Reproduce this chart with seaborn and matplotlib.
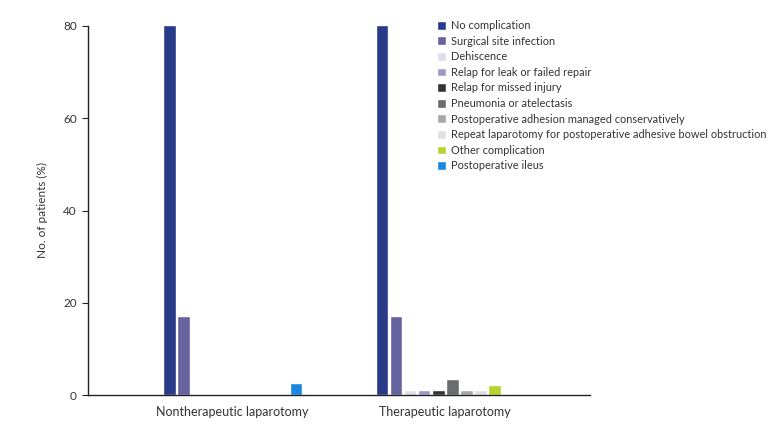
import matplotlib
matplotlib.use("Agg")
import matplotlib.pyplot as plt
import seaborn as sns
import pandas as pd

groups = ["Nontherapeutic laparotomy", "Therapeutic laparotomy"]
complications = [
    "No complication",
    "Surgical site infection",
    "Dehiscence",
    "Relap for leak or failed repair",
    "Relap for missed injury",
    "Pneumonia or atelectasis",
    "Postoperative adhesion managed conservatively",
    "Repeat laparotomy for postoperative adhesive bowel obstruction",
    "Other complication",
    "Postoperative ileus",
]
nontherapeutic = [80.3, 17.1, 0, 0, 0, 0, 0, 0, 0, 2.6]
therapeutic = [80.3, 17.1, 1.1, 1.1, 1.1, 3.4, 1.1, 1.1, 2.2, 0]
colors = ["#283a88", "#66639e", "#dedeed", "#9b98c9", "#333333",
          "#6b6c6e", "#a7a7a9", "#e1e1e3", "#b8d431", "#1a88e0"]

rows = []
for c, a, b in zip(complications, nontherapeutic, therapeutic):
    rows.append({"group": groups[0], "comp": c, "value": a})
    rows.append({"group": groups[1], "comp": c, "value": b})
df = pd.DataFrame(rows)

sns.set_style("white")
plt.rcParams["font.family"] = ["Lato", "DejaVu Sans"]

fig = plt.figure(figsize=(7.84, 4.28), dpi=100)
ax = fig.add_axes([88/784, 33/428, 502/784, 369/428])
sns.barplot(data=df, x="group", y="value", hue="comp", order=groups,
            hue_order=complications, palette=colors, width=0.66, gap=0.12,
            saturation=1, ax=ax, legend=True)
ax.set_ylim(0, 80)
ax.set_xlim(-0.68, 1.68)
ax.set_yticks([0, 20, 40, 60, 80])
ax.set_xlabel("")
ax.set_ylabel("No. of patients (%)", fontsize=8.5, color="#333333", labelpad=11)
for s in ["top", "right"]:
    ax.spines[s].set_visible(False)
for s in ["left", "bottom"]:
    ax.spines[s].set_color("#222222")
    ax.spines[s].set_linewidth(1.0)
ax.tick_params(axis="y", length=4, width=0.8, color="#222222", labelsize=8.5,
               labelcolor="#333333", left=True, pad=4)
ax.tick_params(axis="x", length=0, labelsize=9, labelcolor="#333333", pad=8)

leg = ax.legend(loc="upper left", bbox_to_anchor=(437/784, 1 - 20/428),
                bbox_transform=fig.transFigure, frameon=False, fontsize=7.9,
                handlelength=0.85, handleheight=0.85, handletextpad=0.45,
                labelspacing=0.42, borderaxespad=0, borderpad=0)
for t in leg.get_texts():
    t.set_color("#333333")

fig.savefig("out.png", dpi=100)
